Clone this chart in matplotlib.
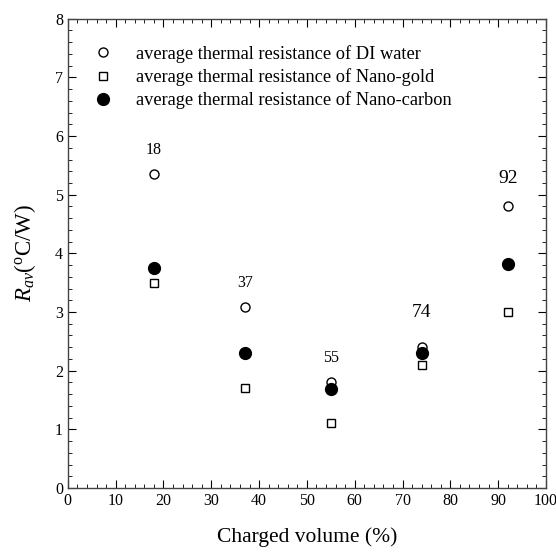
import matplotlib
matplotlib.use("Agg")
import matplotlib.pyplot as plt

plt.rcParams['font.family'] = ['Liberation Serif', 'DejaVu Serif']
plt.rcParams['mathtext.fontset'] = 'custom'
plt.rcParams['mathtext.rm'] = 'Liberation Serif'
plt.rcParams['mathtext.it'] = 'Liberation Serif:italic'

volume = [18, 37, 55, 74, 92]
di_water = [5.35, 3.08, 1.8, 2.4, 4.8]
nano_gold = [3.5, 1.7, 1.1, 2.1, 3.0]
nano_carbon = [3.75, 2.3, 1.68, 2.3, 3.82]
label_y = [5.77, 3.5, 2.22, 3.0, 5.27]
label_size = [11.5, 11.5, 11.5, 14, 14]

fig = plt.figure(figsize=(5.56, 5.52), dpi=100)
ax = fig.add_axes([0.122, 0.116, 0.86, 0.85])

ax.plot(volume, di_water, 'o', mfc='white', mec='black', ms=6.5, mew=1,
        label='average thermal resistance of DI water', linestyle='none')
ax.plot(volume, nano_gold, 's', mfc='white', mec='black', ms=5.8, mew=1,
        label='average thermal resistance of Nano-gold', linestyle='none')
ax.plot(volume, nano_carbon, 'o', mfc='black', mec='black', ms=8.5,
        label='average thermal resistance of Nano-carbon', linestyle='none')

for x, y, s in zip(volume, label_y, label_size):
    ax.text(x, y, str(x), ha='center', va='center', fontsize=s)

ax.set_xlim(0, 100)
ax.set_ylim(0, 8)
ax.set_xticks(range(0, 101, 10))
ax.set_xticks(range(0, 101, 2), minor=True)
ax.set_yticks(range(0, 9))
ax.set_yticks([i * 0.2 for i in range(41)], minor=True)
ax.tick_params(which='both', direction='in', top=True, right=True, labelsize=11.5)
ax.tick_params(which='major', length=6)
ax.tick_params(which='minor', length=3)
for sp in ax.spines.values():
    sp.set_linewidth(1)
    sp.set_color('#444444')

ax.set_xlabel('Charged volume (%)', fontsize=15.5, labelpad=13)
ax.set_ylabel(r'$R_{av}$($^{\rm o}$C/W)', fontsize=16.5, labelpad=12)

ax.legend(loc='upper left', frameon=False, fontsize=13.2, handletextpad=1.2,
          borderaxespad=0, labelspacing=0.3, handlelength=1.2,
          bbox_to_anchor=(0.035, 0.96))

fig.savefig('out.png', dpi=100)
